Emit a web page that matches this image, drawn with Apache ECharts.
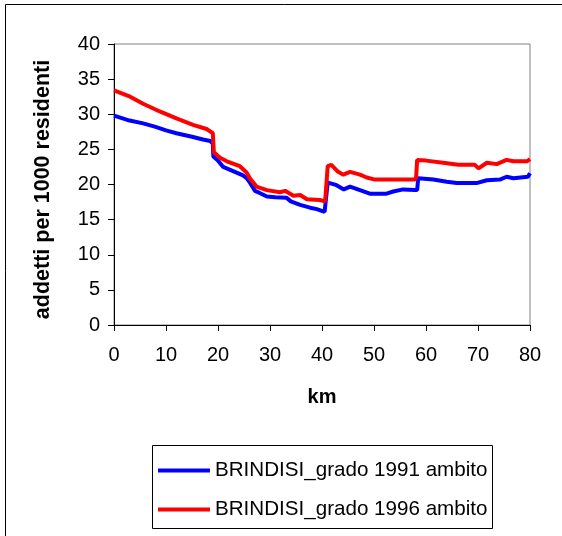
<!DOCTYPE html>
<html>
<head>
<meta charset="utf-8">
<script src="https://cdn.jsdelivr.net/npm/echarts@6/dist/echarts.min.js"></script>
<style>
html,body{margin:0;padding:0;background:#fff;}
#chart{width:562px;height:536px;}
</style>
</head>
<body>
<div id="chart"></div>
<script>
var seriesNames = ['BRINDISI_grado 1991 ambito', 'BRINDISI_grado 1996 ambito'];
var xTicks = [0, 10, 20, 30, 40, 50, 60, 70, 80];
var yTicks = [0, 5, 10, 15, 20, 25, 30, 35, 40];

var km1991 = [0, 3, 5.6, 8, 10, 12, 15, 17.1, 18.5, 19, 19.1, 20, 21, 22.9, 24.8, 25.5, 26.2, 27.1, 28, 29.4, 31, 33.2, 34, 35.8, 37.7, 39, 40.5, 40.8, 41.1, 41.5, 42.8, 44.2, 45.4, 47.3, 49.2, 52.4, 53.7, 55.6, 57.9, 58.3, 58.5, 61.4, 64, 65.9, 69.7, 71.7, 74.2, 75.5, 76.8, 79.6, 80];
var val1991 = [29.8, 29.1, 28.7, 28.2, 27.7, 27.3, 26.8, 26.4, 26.2, 25.8, 24.0, 23.4, 22.5, 21.9, 21.3, 20.9, 20.2, 19.1, 18.8, 18.3, 18.2, 18.1, 17.6, 17.1, 16.7, 16.5, 16.1, 16.3, 20.3, 20.2, 19.9, 19.3, 19.7, 19.2, 18.7, 18.7, 19.0, 19.3, 19.2, 19.2, 20.9, 20.7, 20.4, 20.2, 20.2, 20.6, 20.7, 21.1, 20.9, 21.1, 21.6];

var km1996 = [0, 3.1, 5.6, 8.8, 12, 15.2, 17.8, 19, 19.2, 20.4, 21.7, 24.2, 25.5, 26.2, 27.4, 29.4, 31.9, 32.9, 34.5, 35.8, 37.1, 39.6, 40.6, 40.9, 41.1, 41.8, 43.1, 44.1, 45.4, 47.3, 48.6, 50.2, 57.9, 58.1, 58.3, 60, 63.3, 66.2, 69.4, 70.1, 71.7, 73.6, 75.5, 76.8, 79.4, 80];
var val1996 = [33.4, 32.5, 31.5, 30.4, 29.4, 28.5, 27.9, 27.3, 24.6, 23.8, 23.3, 22.6, 21.7, 20.8, 19.7, 19.2, 18.9, 19.1, 18.4, 18.5, 17.9, 17.8, 17.6, 17.5, 22.6, 22.8, 21.8, 21.4, 21.8, 21.4, 21.0, 20.7, 20.7, 21.0, 23.5, 23.4, 23.1, 22.8, 22.8, 22.3, 23.1, 22.9, 23.5, 23.3, 23.3, 23.6];

function pairs(xs, ys) { return xs.map(function (x, i) { return [x, ys[i]]; }); }

var FONT = '"Liberation Sans", Arial, sans-serif';
var chart = echarts.init(document.getElementById('chart'), null, {renderer: 'canvas'});
chart.setOption({
  animation: false,
  backgroundColor: '#ffffff',
  textStyle: {fontFamily: FONT},
  grid: {left: 114, top: 44, right: 32, bottom: 211, show: true, borderColor: '#808080', borderWidth: 1, containLabel: false},
  graphic: [
    {type: 'rect', shape: {x: 5.5, y: 4.5, width: 700, height: 700}, style: {fill: 'none', stroke: '#000', lineWidth: 1}, silent: true, z: -10},
    {type: 'rect', shape: {x: 152.5, y: 445.5, width: 340, height: 83}, style: {fill: '#fff', stroke: '#000', lineWidth: 1}, silent: true, z: 0}
  ],
  legend: {
    data: seriesNames,
    orient: 'vertical',
    left: 153,
    top: 455,
    itemWidth: 52,
    itemHeight: 4,
    itemGap: 18,
    icon: 'rect',
    textStyle: {fontSize: 20.6, color: '#000', fontFamily: FONT},
    z: 5
  },
  xAxis: {
    type: 'value',
    min: 0, max: 80, interval: 10,
    name: 'km',
    nameLocation: 'middle',
    nameGap: 62,
    nameTextStyle: {fontSize: 20, fontWeight: 'bold', color: '#000', fontFamily: FONT},
    axisLine: {show: true, onZero: false, lineStyle: {color: '#000', width: 1}},
    axisTick: {show: true, length: 6, lineStyle: {color: '#000'}},
    axisLabel: {fontSize: 20, color: '#000', margin: 20, fontFamily: FONT,
      formatter: function (v) { return xTicks.indexOf(v) >= 0 ? String(v) : ''; }},
    splitLine: {show: false}
  },
  yAxis: {
    type: 'value',
    min: 0, max: 40, interval: 5,
    name: 'addetti per 1000 residenti',
    nameLocation: 'middle',
    nameRotate: 90,
    nameGap: 60,
    nameTextStyle: {fontSize: 21.5, fontWeight: 'bold', color: '#000', fontFamily: FONT, padding: [0, 10, 0, 0]},
    axisLine: {show: true, onZero: false, lineStyle: {color: '#000', width: 1}},
    axisTick: {show: true, length: 6, lineStyle: {color: '#000'}},
    axisLabel: {fontSize: 20, color: '#000', margin: 14, fontFamily: FONT,
      formatter: function (v) { return yTicks.indexOf(v) >= 0 ? String(v) : ''; }},
    splitLine: {show: false}
  },
  series: [
    {name: seriesNames[0], type: 'line', data: pairs(km1991, val1991), symbol: 'none', color: '#0000ff',
     lineStyle: {color: '#0000ff', width: 4}, z: 3},
    {name: seriesNames[1], type: 'line', data: pairs(km1996, val1996), symbol: 'none', color: '#ff0000',
     lineStyle: {color: '#ff0000', width: 4}, z: 4}
  ]
});
</script>
</body>
</html>
